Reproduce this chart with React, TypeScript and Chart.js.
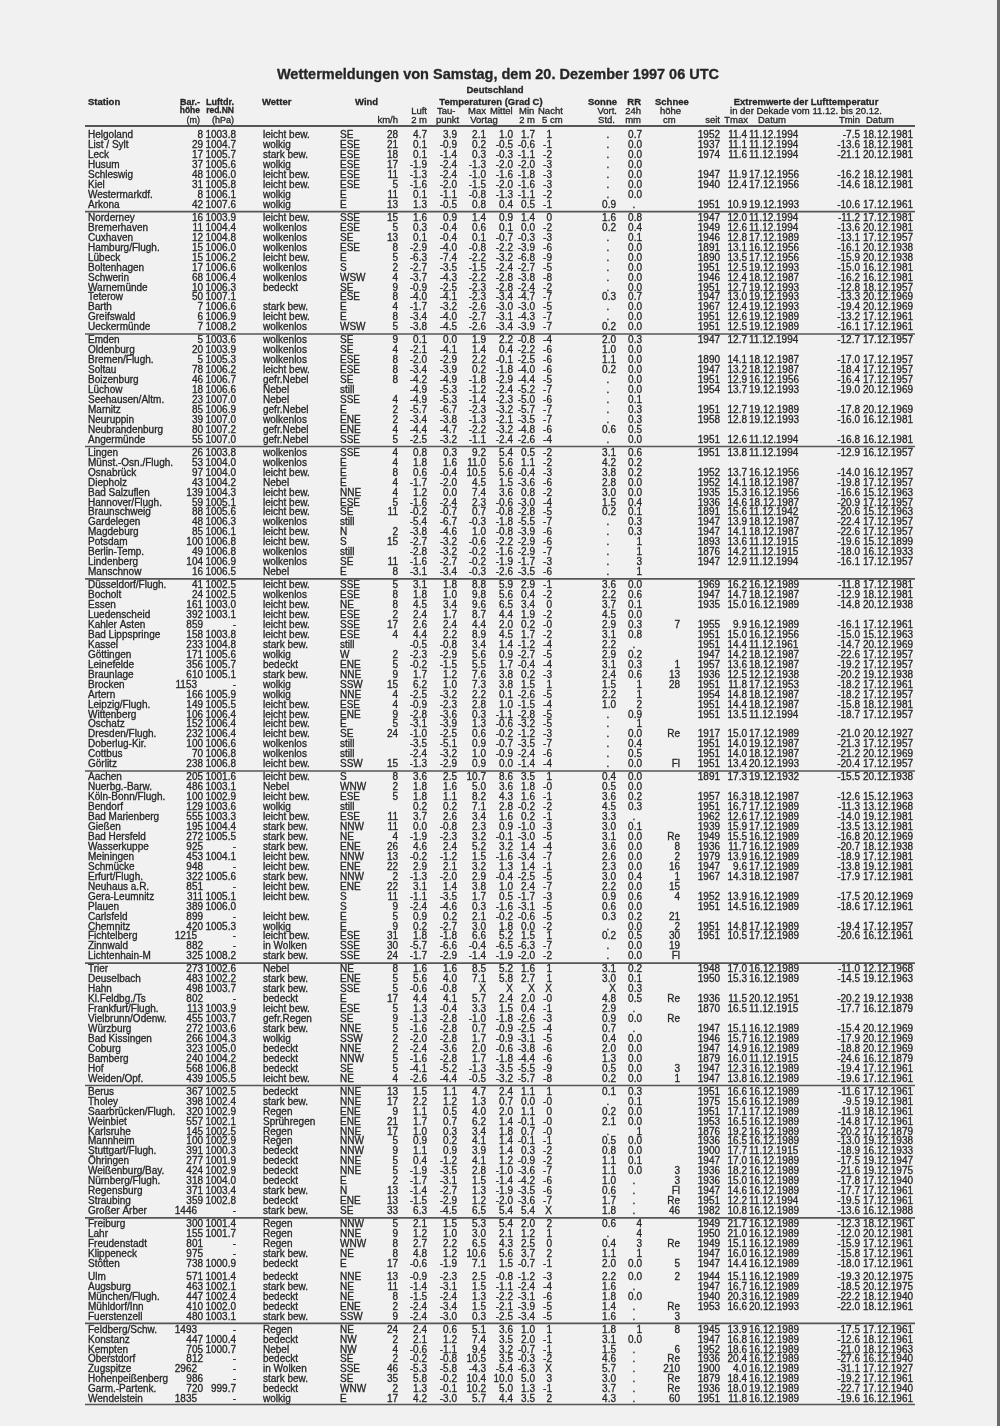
import React, { useEffect, useRef } from "react";
import { Chart, registerables } from "chart.js";

Chart.register(...registerables);

// ---------------- data ----------------
const groupSizes = [8, 12, 11, 13, 19, 19, 12, 13, 5, 5, 8];
const groupRuleAbove = [false, true, true, true, true, true, true, true, true, false, true];

const stations = [
  "Helgoland","List / Sylt","Leck","Husum","Schleswig","Kiel","Westermarkdf.","Arkona",
  "Norderney","Bremerhaven","Cuxhaven","Hamburg/Flugh.","Lübeck","Boltenhagen","Schwerin","Warnemünde","Teterow","Barth","Greifswald","Ueckermünde",
  "Emden","Oldenburg","Bremen/Flugh.","Soltau","Boizenburg","Lüchow","Seehausen/Altm.","Marnitz","Neuruppin","Neubrandenburg","Angermünde",
  "Lingen","Münst.-Osn./Flugh.","Osnabrück","Diepholz","Bad Salzuflen","Hannover/Flugh.","Braunschweig","Gardelegen","Magdeburg","Potsdam","Berlin-Temp.","Lindenberg","Manschnow",
  "Düsseldorf/Flugh.","Bocholt","Essen","Luedenscheid","Kahler Asten","Bad Lippspringe","Kassel","Göttingen","Leinefelde","Braunlage","Brocken","Artern","Leipzig/Flugh.","Wittenberg","Oschatz","Dresden/Flugh.","Doberlug-Kir.","Cottbus","Görlitz",
  "Aachen","Nuerbg.-Barw.","Köln-Bonn/Flugh.","Bendorf","Bad Marienberg","Gießen","Bad Hersfeld","Wasserkuppe","Meiningen","Schmücke","Erfurt/Flugh.","Neuhaus a.R.","Gera-Leumnitz","Plauen","Carlsfeld","Chemnitz","Fichtelberg","Zinnwald","Lichtenhain-M",
  "Trier","Deuselbach","Hahn","Kl.Feldbg./Ts","Frankfurt/Flugh.","Vielbrunn/Odenw.","Würzburg","Bad Kissingen","Coburg","Bamberg","Hof","Weiden/Opf.",
  "Berus","Tholey","Saarbrücken/Flugh.","Weinbiet","Karlsruhe","Mannheim","Stuttgart/Flugh.","Öhringen","Weißenburg/Bay.","Nürnberg/Flugh.","Regensburg","Straubing","Großer Arber",
  "Freiburg","Lahr","Freudenstadt","Klippeneck","Stötten",
  "Ulm","Augsburg","München/Flugh.","Mühldorf/Inn","Fuerstenzell",
  "Feldberg/Schw.","Konstanz","Kempten","Oberstdorf","Zugspitze","Hohenpeißenberg","Garm.-Partenk.","Wendelstein",
];

const heights = [
  "8","29","17","37","48","31","8","42",
  "16","11","12","15","15","17","68","10","50","7","6","7",
  "5","20","5","78","46","18","23","85","39","80","55",
  "26","53","97","43","139","59","88","48","85","100","49","104","16",
  "41","24","161","392","859","158","233","171","356","610","1153","166","149","106","152","232","100","70","238",
  "205","486","100","129","555","195","272","925","453","948","322","851","311","389","899","420","1215","882","325",
  "273","483","498","802","113","455","272","266","323","240","568","439",
  "367","398","320","557","145","100","391","277","424","318","371","359","1446",
  "300","155","801","975","738",
  "571","463","447","410","480",
  "1493","447","705","812","2962","986","720","1835",
];

const pressures = [
  "1003.8","1004.7","1005.7","1005.6","1006.0","1005.8","1006.1","1007.6",
  "1003.9","1004.4","1004.8","1006.0","1006.2","1006.6","1006.4","1006.3","1007.1","1006.6","1006.9","1008.2",
  "1003.6","1003.9","1005.3","1006.2","1006.7","1006.6","1007.0","1006.9","1007.0","1007.2","1007.0",
  "1003.8","1004.0","1004.0","1004.2","1004.3","1005.1","1005.6","1006.3","1006.1","1006.8","1006.8","1006.9","1006.5",
  "1002.5","1002.5","1003.0","1003.1","-","1003.8","1004.8","1005.6","1005.7","1005.1","-","1005.9","1005.5","1006.4","1006.4","1006.4","1006.6","1006.8","1006.8",
  "1001.6","1003.1","1002.9","1003.6","1003.3","1004.4","1005.5","-","1004.1","-","1005.6","-","1005.1","1006.0","-","1005.3","-","-","1008.2",
  "1002.6","1002.2","1003.7","-","1003.9","1003.7","1003.6","1004.3","1005.0","1004.2","1006.8","1005.5",
  "1002.5","1002.4","1002.9","1002.1","1002.5","1002.9","1000.3","1001.9","1002.9","1004.0","1003.4","1002.8","-",
  "1001.4","1001.7","-","-","1000.9",
  "1001.4","1002.1","1002.4","1002.0","1003.1",
  "-","1000.4","1000.7","-","-","-","999.7","-",
];

const weather = [
  "leicht bew.","wolkig","stark bew.","wolkig","leicht bew.","leicht bew.","wolkig","wolkig",
  "leicht bew.","wolkenlos","wolkenlos","wolkenlos","leicht bew.","wolkenlos","wolkenlos","bedeckt","","stark bew.","leicht bew.","wolkenlos",
  "wolkenlos","wolkenlos","wolkenlos","leicht bew.","gefr.Nebel","Nebel","Nebel","gefr.Nebel","wolkenlos","gefr.Nebel","gefr.Nebel",
  "wolkenlos","wolkenlos","leicht bew.","Nebel","leicht bew.","leicht bew.","leicht bew.","wolkenlos","leicht bew.","leicht bew.","wolkenlos","wolkenlos","Nebel",
  "leicht bew.","wolkenlos","leicht bew.","leicht bew.","leicht bew.","leicht bew.","stark bew.","wolkig","bedeckt","stark bew.","wolkig","wolkig","leicht bew.","leicht bew.","leicht bew.","leicht bew.","wolkenlos","wolkenlos","leicht bew.",
  "leicht bew.","Nebel","leicht bew.","wolkig","leicht bew.","stark bew.","stark bew.","stark bew.","leicht bew.","leicht bew.","stark bew.","leicht bew.","leicht bew.","","leicht bew.","wolkig","leicht bew.","in Wolken","stark bew.",
  "Nebel","stark bew.","stark bew.","bedeckt","leicht bew.","gefr.Regen","stark bew.","wolkig","bedeckt","bedeckt","bedeckt","leicht bew.",
  "bedeckt","stark bew.","Regen","Sprühregen","Regen","Regen","bedeckt","bedeckt","bedeckt","bedeckt","stark bew.","bedeckt","stark bew.",
  "Regen","Regen","Regen","stark bew.","bedeckt",
  "bedeckt","stark bew.","bedeckt","bedeckt","stark bew.",
  "Regen","bedeckt","Nebel","bedeckt","in Wolken","stark bew.","bedeckt","wolkig",
];

const windDir = [
  "SE","ESE","ESE","ESE","ESE","ESE","E","E",
  "SSE","ESE","SE","ESE","E","S","WSW","SE","ESE","E","E","WSW",
  "SE","SE","ESE","ESE","SE","still","SSE","E","ENE","ENE","SSE",
  "SSE","E","E","E","NNE","ESE","SE","still","N","S","still","SE","E",
  "SSE","ESE","NE","ESE","SSE","ESE","still","W","ENE","NNE","SSW","NNE","ESE","ENE","E","SE","still","still","SSW",
  "S","WNW","ESE","still","ESE","NNW","NE","ENE","NNW","ENE","NNW","ENE","S","S","E","E","ESE","SSE","SSE",
  "NE","ENE","SSE","E","ESE","SE","NNE","SSW","NNE","NNW","SE","NE",
  "NNE","NNE","ENE","ENE","NNE","NNW","NNW","NNE","NNE","E","N","ENE","SE",
  "NNW","NNE","WNW","NE","E",
  "NNE","NE","NE","ENE","SSW",
  "NE","NW","NW","SE","SSE","SE","WNW","E",
];

const windSpeed = [
  "28","21","18","17","11","5","11","13",
  "15","5","13","8","5","2","4","9","8","4","8","5",
  "9","4","8","8","8","","4","2","2","4","5",
  "4","4","8","4","4","5","11","","2","15","","11","8",
  "5","8","8","2","17","4","","2","5","9","15","4","4","9","5","24","","","15",
  "8","2","5","","11","11","4","26","13","22","2","22","11","9","5","9","31","30","24",
  "8","5","5","17","5","9","5","2","2","5","5","4",
  "13","17","9","21","17","5","9","5","5","2","13","13","33",
  "5","9","8","8","17",
  "13","11","8","2","9",
  "24","2","4","2","46","35","2","17",
];

const airTemp = [
  "4.7","0.1","0.1","-1.9","-1.3","-1.6","0.1","1.3",
  "1.6","0.3","0.1","-2.9","-6.3","-2.7","-3.7","-0.9","-4.0","-1.7","-3.4","-3.8",
  "0.1","-2.1","-2.0","-3.4","-4.2","-4.9","-4.9","-5.7","-3.4","-4.4","-2.5",
  "0.8","1.8","0.6","-1.7","1.2","-1.6","-0.2","-5.4","-3.8","-2.7","-2.8","-1.6","-3.1",
  "3.1","1.8","4.5","2.4","2.6","4.4","-0.5","-2.3","-0.2","1.7","6.2","-2.5","-0.9","-2.8","-3.1","-1.0","-3.5","-2.4","-1.3",
  "3.6","1.8","1.8","0.2","3.7","0.0","-1.9","4.6","-0.2","2.9","-1.3","3.1","-1.1","-2.4","0.9","0.2","1.8","-5.7","-1.7",
  "1.6","5.6","-0.6","4.4","1.3","-1.3","-1.6","-2.0","-2.4","-1.6","-4.1","-2.6",
  "1.5","2.2","1.1","1.7","1.0","0.9","1.1","0.4","-1.9","-1.7","-1.4","-1.5","6.3",
  "2.1","1.2","2.7","4.8","-0.6",
  "-0.9","-1.4","-1.5","-2.4","-2.4",
  "2.4","2.1","-0.6","-0.2","-5.3","5.8","1.3","4.2",
];

const dewPoint = [
  "3.9","-0.9","-1.4","-2.4","-2.4","-2.0","-1.1","-0.5",
  "0.9","-0.4","-0.4","-4.0","-7.4","-3.5","-4.3","-2.5","-4.1","-3.2","-4.0","-4.5",
  "0.0","-4.1","-2.9","-3.9","-4.9","-5.3","-5.3","-6.7","-3.8","-4.7","-3.2",
  "0.3","1.6","-0.4","-2.0","0.0","-2.4","-0.7","-6.7","-4.6","-3.2","-3.2","-2.7","-3.4",
  "1.8","1.0","3.4","1.7","2.4","2.2","-0.8","-2.9","-1.5","1.2","1.0","-3.2","-2.3","-3.6","-3.9","-2.5","-5.1","-3.2","-2.9",
  "2.5","1.6","1.1","0.2","2.6","-0.8","-2.3","2.4","-1.2","2.1","-2.0","1.4","-3.5","-4.6","0.2","-2.7","-1.8","-6.6","-2.9",
  "1.6","4.0","-0.8","4.1","-0.4","-2.8","-2.8","-2.8","-3.6","-2.8","-5.2","-4.4",
  "1.1","1.2","0.5","0.7","0.3","0.2","0.9","-1.2","-3.5","-3.1","-2.7","-2.9","-4.5",
  "1.5","1.0","2.2","1.2","-1.9",
  "-2.3","-3.1","-2.4","-3.4","-3.0",
  "0.6","1.2","-1.1","-0.8","-5.8","-0.2","-0.1","-3.0",
];

const maxPrev = [
  "2.1","0.2","0.3","-1.3","-1.0","-1.5","-0.8","0.8",
  "1.4","0.6","0.1","-0.8","-2.2","-1.5","-2.2","-2.3","-2.3","-2.6","-2.7","-2.6",
  "1.9","1.4","2.2","0.2","-1.8","-1.2","-1.4","-2.3","-1.3","-2.2","-1.1",
  "9.2","11.0","10.5","4.5","7.4","2.3","0.7","-0.3","1.0","-0.6","-0.2","-0.2","-0.3",
  "8.8","9.8","9.6","8.7","4.4","8.9","3.4","5.6","5.5","7.6","7.3","2.2","2.8","0.3","1.3","0.6","0.9","1.0","0.9",
  "10.7","5.0","8.2","7.1","3.4","2.3","3.2","5.2","1.5","3.2","2.9","3.8","1.7","0.3","2.1","3.0","6.6","-0.4","-1.4",
  "8.5","7.1","X","5.7","3.3","-1.0","0.7","1.7","2.0","1.7","-1.3","-0.5",
  "4.7","1.3","4.0","6.2","3.4","4.1","3.9","4.1","2.8","1.5","1.3","1.2","6.5",
  "5.3","3.0","6.5","10.6","7.1",
  "2.5","1.5","1.3","1.5","0.3",
  "5.1","7.4","9.4","10.5","-4.3","10.4","10.2","5.7",
];

const meanPrev = [
  "1.0","-0.5","-0.3","-2.0","-1.6","-2.0","-1.3","0.4",
  "0.9","0.1","-0.7","-2.2","-3.2","-2.4","-2.8","-2.8","-3.4","-3.0","-3.1","-3.4",
  "2.2","0.4","-0.1","-1.8","-2.9","-2.4","-2.3","-3.2","-2.1","-3.2","-2.4",
  "5.4","5.6","5.6","1.5","3.6","-0.6","-0.8","-1.8","-0.8","-2.2","-1.6","-1.9","-2.6",
  "5.9","5.6","6.5","4.4","2.0","4.5","1.4","0.9","1.7","3.8","3.8","0.1","1.0","-1.1","-0.6","-0.2","-0.7","-0.9","0.0",
  "8.6","3.6","4.3","2.8","1.6","0.9","-0.1","3.2","-1.6","1.3","-0.4","1.0","0.5","-1.6","-0.2","1.8","5.2","-6.5","-1.9",
  "5.2","5.8","X","2.4","1.5","-1.8","-0.9","-0.9","-0.6","-1.8","-3.5","-3.2",
  "2.4","0.7","2.0","1.4","1.8","1.4","1.4","1.2","-1.0","-1.4","-1.9","-2.0","5.4",
  "5.4","2.1","4.3","5.6","1.5",
  "-0.8","-1.1","-2.2","-2.1","-2.5",
  "3.6","3.5","3.2","3.5","-5.4","10.0","5.0","4.4",
];

const min2m = [
  "1.7","-0.6","-1.1","-2.0","-1.8","-1.6","-1.1","0.5",
  "1.4","0.0","-0.3","-3.9","-6.8","-2.7","-3.8","-2.4","-4.7","-3.0","-4.3","-3.9",
  "-0.8","-2.2","-2.5","-4.0","-4.4","-5.2","-5.0","-5.7","-3.5","-4.8","-2.6",
  "0.5","1.1","-0.4","-3.6","0.8","-3.0","-2.8","-5.5","-3.9","-2.9","-2.9","-1.7","-3.5",
  "2.9","0.4","3.4","1.9","0.2","1.7","-1.2","-2.7","-0.4","0.2","1.5","-2.6","-1.5","-2.8","-3.2","-1.2","-3.5","-2.4","-1.4",
  "3.5","1.8","1.6","-0.2","0.2","-1.0","-3.0","1.4","-3.4","1.4","-2.5","2.4","-1.7","-3.1","-0.6","0.0","1.5","-6.3","-2.0",
  "1.6","2.7","X","2.0","0.4","-2.6","-2.5","-3.1","-3.8","-4.4","-5.5","-5.7",
  "1.1","0.0","1.1","-0.1","0.7","-0.1","0.3","-0.9","-3.6","-4.2","-3.5","-3.6","5.4",
  "2.0","1.2","2.5","3.7","-0.7",
  "-1.2","-2.4","-3.1","-3.9","-3.4",
  "1.0","2.0","-0.7","-0.3","-6.3","5.0","1.3","3.5",
];

const min5cm = [
  "1","-1","-2","-3","-3","-3","-2","-1",
  "0","-2","-3","-6","-9","-5","-8","-2","-7","-5","-7","-7",
  "-4","-6","-6","-6","-5","-7","-6","-7","-7","-6","-4",
  "-2","-2","-3","-6","-2","-4","-5","-7","-6","-6","-7","-3","-6",
  "-1","-2","0","-2","-0","-2","-4","-5","-4","-3","1","-5","-4","-5","-5","-3","-7","-6","-4",
  "1","-0","-1","-2","-1","-3","-5","-4","-7","-1","-5","-7","-3","-5","-5","-2","1","-7","-2",
  "1","1","X","-0","-1","-3","-4","-5","-6","-6","-9","-8",
  "1","-0","0","-0","-0","-1","-2","-2","-7","-6","-6","-7","X",
  "2","1","0","2","-1",
  "-3","-4","-6","-5","-5",
  "1","-1","-1","-2","X","3","-1","2",
];

const sunshine = [
  ".",".",".",".",".",".",".","0.9",
  "1.6","0.2",".",".",".",".",".",".","0.3",".",".","0.2",
  "2.0","1.0","1.1","0.2",".",".",".",".",".","0.6",".",
  "3.1","4.2","3.8","2.8","3.0","1.5","0.2",".",".",".",".",".",".",
  "3.6","2.2","3.7","4.5","2.9","3.1","2.2","2.9","3.1","2.4","1.5","2.2","1.0",".",".",".",".",".",".",
  "0.4","0.5","3.6","4.5","3.3","3.0","3.1","3.6","2.6","2.3","3.0","2.2","0.9","0.6","0.3",".","0.2",".",".",
  "3.1","3.0","X","4.8","2.9","0.9","0.7","0.4","2.0","1.3","0.5","0.2",
  "0.1",".","0.2","2.1",".","0.5","0.8","1.1","1.1","1.0","0.6","1.7","1.8",
  "0.6",".","0.4","1.1","2.0",
  "2.2","1.6","1.8","1.4","1.6",
  "1.8","3.1","1.5","4.6","5.7","3.0","3.7","4.3",
];

const precip = [
  "0.7","0.0","0.0","0.0","0.0","0.0","0.0",".",
  "0.8","0.4","0.1","0.0","0.0","0.0","0.0","0.0","0.7","0.0","0.0","0.0",
  "0.3","0.0","0.0","0.0","0.0","0.0","0.1","0.3","0.3","0.5","0.0",
  "0.6","0.2","0.2","0.0","0.0","0.4","0.1","0.3","0.3","1","1","3","1",
  "0.0","0.6","0.1","0.0","0.3","0.8",".","0.2","0.3","0.6","1","1","2","0.9","1","0.0","0.4","0.5","0.0",
  "0.0","0.0","0.2","0.3",".","0.1","0.0","0.0","0.0","0.0","0.4","0.0","0.6","0.0","0.2","0.0","0.5","0.0","0.0",
  "0.2","0.1","0.3","0.5",".","0.0",".","0.0","0.0","0.0","0.0","0.0",
  "0.3","0.1","0.0","0.0","1","0.0","0.0","0.1","0.0",".",".",".",".",
  "4","4","3","1","0.0",
  "0.0",".","0.0",".",".",
  "1","0.0",".",".",".",".",".",".",
];

const snow = [
  "","","","","","","","",
  "","","","","","","","","","","","",
  "","","","","","","","","","","",
  "","","","","","","","","","","","","",
  "","","","","7","","","","1","13","28","","","","","Re","","","Fl",
  "","","","","","","Re","8","2","16","1","15","4","","21","2","30","19","Fl",
  "","","","Re","","Re","","","","","3","1",
  "","","","","","","","","3","3","Fl","Re","46",
  "","","Re","","5",
  "2","","","Re","3",
  "8","","6","Re","210","Re","Re","60",
];

const since = [
  "1952","1937","1974","","1947","1940","","1951",
  "1947","1949","1946","1891","1890","1951","1946","1951","1947","1967","1951","1951",
  "1947","","1890","1947","1951","1954","","1951","1958","","1951",
  "1951","","1952","1952","1935","1936","1891","1947","1947","1893","1876","1947","",
  "1969","1947","1935","","1955","1951","1951","1947","1957","1936","1951","1954","1951","1951","","1917","1951","1951","1951",
  "1891","","1957","1951","1962","1939","1949","1936","1979","1947","1967","","1952","1951","","1951","1951","","",
  "1948","1950","","1936","1870","","1947","1946","1947","1879","1947","1947",
  "1951","1975","1951","1953","1876","1936","1900","1947","1936","1936","1947","1951","1982",
  "1949","1950","1949","1947","1947",
  "1944","1947","1940","1953","",
  "1945","1947","1952","1936","1900","1879","1936","1951",
];

const recTmax = [
  "11.4","11.1","11.6","","11.9","12.4","","10.9",
  "12.0","12.6","12.8","13.1","13.5","12.5","12.4","12.7","13.0","12.4","12.6","12.5",
  "12.7","","14.1","13.2","12.9","13.7","","12.7","12.8","","12.6",
  "13.8","","13.7","14.1","15.3","14.6","15.6","13.9","14.1","13.6","14.2","12.9","",
  "16.2","14.7","15.0","","9.9","15.0","14.4","14.2","13.6","12.5","11.8","14.8","14.4","13.5","","15.0","14.0","14.0","13.4",
  "17.3","","16.3","16.7","12.6","15.9","15.5","11.7","13.9","9.6","14.3","","13.9","14.5","","14.8","10.5","","",
  "17.0","15.3","","11.5","16.5","","15.1","15.7","14.9","16.0","12.3","13.8",
  "16.6","15.6","17.1","16.5","19.2","16.5","17.7","17.0","18.2","15.0","14.6","12.2","10.8",
  "21.7","21.0","15.1","16.0","14.4",
  "15.1","16.7","20.3","16.6","",
  "13.9","16.8","18.6","20.4","4.0","18.4","18.0","11.8",
];

const recTmaxDate = [
  "11.12.1994","11.12.1994","11.12.1994","","17.12.1956","17.12.1956","","19.12.1993",
  "11.12.1994","11.12.1994","17.12.1989","16.12.1956","17.12.1956","19.12.1993","18.12.1987","19.12.1993","19.12.1993","19.12.1993","19.12.1989","19.12.1989",
  "11.12.1994","","18.12.1987","18.12.1987","16.12.1956","19.12.1993","","19.12.1989","19.12.1993","","11.12.1994",
  "11.12.1994","","16.12.1956","18.12.1987","16.12.1956","18.12.1987","11.12.1942","18.12.1987","18.12.1987","11.12.1915","11.12.1915","11.12.1994","",
  "16.12.1989","18.12.1987","16.12.1989","","16.12.1989","16.12.1956","11.12.1961","18.12.1987","18.12.1987","12.12.1938","17.12.1953","18.12.1987","18.12.1987","11.12.1994","","17.12.1989","19.12.1987","18.12.1987","20.12.1993",
  "19.12.1932","","18.12.1987","17.12.1989","17.12.1989","17.12.1989","16.12.1989","16.12.1989","16.12.1989","17.12.1989","18.12.1987","","16.12.1989","16.12.1989","","17.12.1989","17.12.1989","","",
  "16.12.1989","16.12.1989","","20.12.1951","11.12.1915","","16.12.1989","16.12.1989","16.12.1989","11.12.1915","16.12.1989","16.12.1989",
  "16.12.1989","16.12.1989","17.12.1989","16.12.1989","16.12.1989","16.12.1989","11.12.1915","16.12.1989","16.12.1989","16.12.1989","16.12.1989","11.12.1994","16.12.1989",
  "16.12.1989","16.12.1989","16.12.1989","16.12.1989","16.12.1989",
  "16.12.1989","16.12.1989","16.12.1989","20.12.1993","",
  "16.12.1989","16.12.1989","16.12.1989","16.12.1989","16.12.1989","16.12.1989","19.12.1989","16.12.1989",
];

const recTmin = [
  "-7.5","-13.6","-21.1","","-16.2","-14.6","","-10.6",
  "-11.2","-13.6","-13.1","-16.1","-15.9","-15.0","-16.2","-12.8","-13.3","-19.4","-13.2","-16.1",
  "-12.7","","-17.0","-18.4","-16.4","-19.0","","-17.8","-16.0","","-16.8",
  "-12.9","","-14.0","-19.8","-16.6","-20.9","-20.6","-22.4","-22.6","-19.6","-18.0","-16.1","",
  "-11.8","-12.9","-14.8","","-16.1","-15.0","-14.7","-22.6","-19.2","-20.2","-18.2","-18.2","-15.8","-18.7","","-21.0","-21.3","-21.2","-20.4",
  "-15.5","","-12.6","-11.3","-14.0","-13.5","-16.8","-20.7","-18.9","-13.8","-17.9","","-17.5","-18.6","","-19.4","-20.6","","",
  "-11.0","-14.5","","-20.2","-17.7","","-15.4","-17.9","-18.8","-24.6","-19.4","-19.6",
  "-11.6","-9.5","-11.9","-14.8","-20.2","-13.0","-18.9","-17.5","-21.6","-17.8","-17.7","-19.5","-13.6",
  "-12.3","-12.0","-15.9","-15.8","-18.0",
  "-19.3","-18.5","-22.2","-22.0","",
  "-17.5","-12.6","-21.0","-27.6","-31.1","-19.2","-22.7","-19.6",
];

const recTminDate = [
  "18.12.1981","18.12.1981","20.12.1981","","18.12.1981","18.12.1981","","17.12.1961",
  "17.12.1981","20.12.1981","17.12.1957","20.12.1938","20.12.1938","16.12.1981","16.12.1981","18.12.1957","20.12.1969","20.12.1969","17.12.1961","17.12.1961",
  "17.12.1957","","17.12.1957","17.12.1957","17.12.1957","20.12.1969","","20.12.1969","16.12.1981","","16.12.1981",
  "16.12.1957","","16.12.1957","17.12.1957","15.12.1963","17.12.1957","15.12.1963","17.12.1957","17.12.1957","15.12.1899","16.12.1933","17.12.1957","",
  "17.12.1981","18.12.1981","20.12.1938","","17.12.1961","15.12.1963","20.12.1969","17.12.1957","17.12.1957","19.12.1938","17.12.1961","17.12.1957","18.12.1981","17.12.1957","","20.12.1927","17.12.1957","20.12.1969","17.12.1957",
  "20.12.1938","","15.12.1963","13.12.1968","19.12.1981","13.12.1981","20.12.1969","18.12.1938","17.12.1981","19.12.1981","17.12.1981","","20.12.1969","17.12.1961","","17.12.1957","16.12.1961","","",
  "12.12.1968","19.12.1963","","19.12.1938","16.12.1879","","20.12.1969","20.12.1969","20.12.1969","16.12.1879","17.12.1961","17.12.1961",
  "17.12.1961","19.12.1981","18.12.1961","17.12.1961","17.12.1879","19.12.1938","16.12.1933","19.12.1947","19.12.1975","17.12.1940","17.12.1961","17.12.1961","16.12.1988",
  "18.12.1961","20.12.1981","17.12.1961","17.12.1961","17.12.1961",
  "20.12.1975","20.12.1975","18.12.1940","18.12.1961","",
  "17.12.1961","18.12.1961","18.12.1963","16.12.1940","17.12.1927","17.12.1961","17.12.1940","16.12.1961",
];

const titleText = "Wettermeldungen von Samstag, dem 20. Dezember 1997 06 UTC";

// ---------------- layout (positions on the x scale 0..1000 and the row scale) ----------------
type Col = { values: string[]; x: number; align: CanvasTextAlign; dot?: number; wideShift?: number };
const columns: Col[] = [
  { values: stations, x: 88, align: "left" },
  { values: heights, x: 203, align: "right", wideShift: 6 },
  { values: pressures, x: 236, align: "right" },
  { values: weather, x: 263, align: "left" },
  { values: windDir, x: 340, align: "left" },
  { values: windSpeed, x: 398, align: "right" },
  { values: airTemp, x: 427, align: "right" },
  { values: dewPoint, x: 457, align: "right" },
  { values: maxPrev, x: 486, align: "right" },
  { values: meanPrev, x: 513, align: "right" },
  { values: min2m, x: 535, align: "right" },
  { values: min5cm, x: 552, align: "right" },
  { values: sunshine, x: 616, align: "right", dot: 8 },
  { values: precip, x: 642, align: "right", dot: 8 },
  { values: snow, x: 680, align: "right" },
  { values: since, x: 720, align: "right" },
  { values: recTmax, x: 747, align: "right" },
  { values: recTmaxDate, x: 749, align: "left" },
  { values: recTmin, x: 860, align: "right" },
  { values: recTminDate, x: 863, align: "left" },
];

const GROUP_GAP = 0.3;
const rowY: number[] = [];
const groupStart: number[] = [];
{
  let i = 0;
  groupSizes.forEach((n, g) => {
    groupStart.push(i);
    for (let k = 0; k < n; k++) {
      rowY.push(i + g * GROUP_GAP);
      i++;
    }
  });
}

type HeaderText = { t: string; x: number; y: number; align: CanvasTextAlign; bold?: boolean; size?: number };
const R1 = -3.35;
const R2 = -2.45;
const R3 = -1.55;
const headerTexts: HeaderText[] = [
  { t: titleText, x: 498, y: -6.05, align: "center", bold: true, size: 14.5 },
  { t: "Deutschland", x: 495, y: -4.55, align: "center", bold: true, size: 9.5 },
  { t: "Station", x: 88, y: R1, align: "left", bold: true, size: 9.5 },
  { t: "Bar.-", x: 200, y: R1, align: "right", bold: true, size: 9 },
  { t: "Luftdr.", x: 234, y: R1, align: "right", bold: true, size: 9 },
  { t: "Wetter", x: 262, y: R1, align: "left", bold: true, size: 9.5 },
  { t: "Wind", x: 355, y: R1, align: "left", bold: true, size: 9.5 },
  { t: "Temperaturen (Grad C)", x: 491, y: R1, align: "center", bold: true, size: 9.5 },
  { t: "Sonne", x: 617, y: R1, align: "right", bold: true, size: 9.5 },
  { t: "RR", x: 641, y: R1, align: "right", bold: true, size: 9.5 },
  { t: "Schnee", x: 655, y: R1, align: "left", bold: true, size: 9.5 },
  { t: "Extremwerte der Lufttemperatur", x: 806, y: R1, align: "center", bold: true, size: 9.5 },
  { t: "höhe", x: 200, y: R2, align: "right", bold: true, size: 8.5 },
  { t: "red.NN", x: 234, y: R2, align: "right", bold: true, size: 8.5 },
  { t: "Luft", x: 427, y: R2, align: "right" },
  { t: "Tau-", x: 437, y: R2, align: "left" },
  { t: "Max", x: 468, y: R2, align: "left" },
  { t: "Mittel", x: 490, y: R2, align: "left" },
  { t: "Min", x: 519, y: R2, align: "left" },
  { t: "Nacht", x: 538, y: R2, align: "left" },
  { t: "Vort.", x: 617, y: R2, align: "right" },
  { t: "24h", x: 641, y: R2, align: "right" },
  { t: "höhe", x: 660, y: R2, align: "left" },
  { t: "in der Dekade vom 11.12. bis 20.12.", x: 806, y: R2, align: "center" },
  { t: "(m)", x: 200, y: R3, align: "right", size: 9 },
  { t: "(hPa)", x: 234, y: R3, align: "right", size: 9 },
  { t: "km/h", x: 398, y: R3, align: "right" },
  { t: "2 m", x: 427, y: R3, align: "right" },
  { t: "punkt", x: 436, y: R3, align: "left" },
  { t: "Vortag", x: 484, y: R3, align: "center" },
  { t: "2 m", x: 535, y: R3, align: "right" },
  { t: "5 cm", x: 542, y: R3, align: "left" },
  { t: "Std.", x: 615, y: R3, align: "right" },
  { t: "mm", x: 641, y: R3, align: "right" },
  { t: "cm", x: 663, y: R3, align: "left" },
  { t: "seit", x: 720, y: R3, align: "right" },
  { t: "Tmax", x: 748, y: R3, align: "right" },
  { t: "Datum", x: 758, y: R3, align: "left" },
  { t: "Tmin", x: 860, y: R3, align: "right" },
  { t: "Datum", x: 866, y: R3, align: "left" },
];

const RULE_X0 = 85;
const RULE_X1 = 915;
const HEADER_RULE_Y = -0.95;
const FONT = '"Liberation Sans", Arial, Helvetica, sans-serif';
const INK = "#262626";
const PAPER = "#f1f1f1";

const tablePlugin = {
  id: "weatherTable",
  beforeDraw(chart: any) {
    const { ctx, width, height } = chart;
    ctx.save();
    ctx.fillStyle = PAPER;
    ctx.fillRect(0, 0, width, height);
    ctx.fillStyle = "#6a6a6a";
    ctx.fillRect(width - 3, 0, 3, height);
    ctx.restore();
  },
  afterDatasetsDraw(chart: any) {
    const { ctx } = chart;
    const xs = chart.scales.x;
    const ys = chart.scales.y;
    ctx.save();
    ctx.fillStyle = INK;
    ctx.strokeStyle = INK;
    ctx.lineWidth = 0.3;
    ctx.textBaseline = "middle";
    const put = (t: string, x: number, y: number) => {
      ctx.fillText(t, x, y);
      ctx.strokeText(t, x, y);
    };

    // header
    headerTexts.forEach((h) => {
      ctx.font = `${h.bold ? "bold " : ""}${h.size ?? 9.5}px ${FONT}`;
      ctx.textAlign = h.align;
      put(h.t, xs.getPixelForValue(h.x), ys.getPixelForValue(h.y));
    });

    // cells (one dataset per column, one element per station)
    ctx.font = `10px ${FONT}`;
    chart.data.datasets.forEach((ds: any, d: number) => {
      const col = columns[d];
      const meta = chart.getDatasetMeta(d);
      meta.data.forEach((el: any, j: number) => {
        const t = col.values[j];
        if (!t) return;
        if (t === "." && col.dot) {
          ctx.textAlign = "center";
          put(t, el.x - col.dot, el.y);
        } else {
          ctx.textAlign = col.align;
          const shift = col.wideShift && t.length >= 4 ? col.wideShift : 0;
          put(t, el.x - shift, el.y);
        }
      });
    });

    // rules
    ctx.strokeStyle = "#555";
    const x0 = xs.getPixelForValue(RULE_X0);
    const x1 = xs.getPixelForValue(RULE_X1);
    const hline = (v: number, w: number) => {
      const y = ys.getPixelForValue(v);
      ctx.lineWidth = w;
      ctx.beginPath();
      ctx.moveTo(x0, y);
      ctx.lineTo(x1, y);
      ctx.stroke();
    };
    hline(HEADER_RULE_Y, 2);
    groupStart.forEach((s, g) => {
      if (g === 0 || !groupRuleAbove[g]) return;
      hline((rowY[s - 1] + rowY[s]) / 2, 1.6);
    });
    hline(rowY[rowY.length - 1] + 0.5, 1.6);
    ctx.restore();
  },
};

const PX_PER_ROW = 9.953;
const FIRST_ROW_PX = 135.5;
const CANVAS_W = 1000;
const CANVAS_H = 1426;
const Y_MIN = -FIRST_ROW_PX / PX_PER_ROW;
const Y_MAX = Y_MIN + CANVAS_H / PX_PER_ROW;

export default function App() {
  const ref = useRef<HTMLCanvasElement | null>(null);
  useEffect(() => {
    if (!ref.current) return;
    const chart = new Chart(ref.current, {
      type: "scatter",
      data: {
        datasets: columns.map((col, d) => ({
          label: "col" + d,
          data: col.values.map((_, j) => ({ x: col.x, y: rowY[j] })),
          pointRadius: 0,
          pointHoverRadius: 0,
          showLine: false,
        })),
      },
      options: {
        animation: false,
        responsive: false,
        maintainAspectRatio: false,
        events: [],
        layout: { padding: 0 },
        plugins: { legend: { display: false }, tooltip: { enabled: false } },
        scales: {
          x: { type: "linear", display: false, min: 0, max: CANVAS_W },
          y: { type: "linear", display: false, reverse: true, min: Y_MIN, max: Y_MAX },
        },
      },
      plugins: [tablePlugin],
    } as any);
    return () => chart.destroy();
  }, []);
  return (
    <div style={{ position: "fixed", left: 0, top: 0, width: CANVAS_W, height: CANVAS_H, overflow: "hidden" }}>
      <canvas ref={ref} width={CANVAS_W} height={CANVAS_H} style={{ display: "block", width: CANVAS_W, height: CANVAS_H }} />
    </div>
  );
}
